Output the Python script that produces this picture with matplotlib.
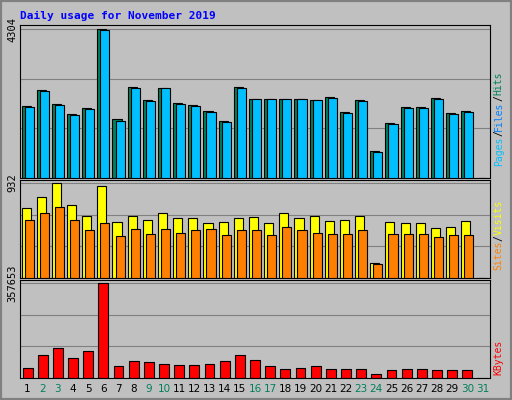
import numpy as np
import matplotlib
matplotlib.use("Agg")
import matplotlib.pyplot as plt

days = list(range(1, 32))
weekend = [2, 3, 9, 10, 16, 17, 23, 24, 30, 31]

hits = [2100, 2560, 2150, 1860, 2030, 4304, 1700, 2650, 2270, 2620, 2180, 2110, 1930, 1640, 2640,
        2300, 2300, 2300, 2300, 2270, 2340, 1900, 2270, 780, 1600, 2060, 2060, 2330, 1890, 1940, 0]
files = [2070, 2530, 2120, 1830, 2000, 4290, 1660, 2620, 2240, 2600, 2150, 2080, 1900, 1610, 2610,
         2280, 2280, 2280, 2280, 2250, 2320, 1870, 2240, 740, 1570, 2040, 2040, 2300, 1860, 1910, 0]
visits = [681, 796, 932, 712, 607, 900, 545, 607, 565, 639, 586, 586, 534, 545, 586,
          597, 534, 639, 586, 607, 555, 565, 607, 147, 545, 534, 534, 492, 503, 555, 0]
sites = [565, 639, 691, 565, 471, 534, 408, 482, 429, 482, 440, 471, 482, 419, 471,
         471, 419, 503, 471, 440, 429, 429, 471, 136, 429, 429, 429, 398, 419, 419, 0]
kbytes = [38900, 85600, 112800, 73900, 101100, 357653, 46700, 62200, 58300, 54400, 50500, 50500,
          54400, 62200, 85600, 66100, 46700, 35000, 38900, 46700, 35000, 35000, 35000, 15600,
          31100, 35000, 35000, 31100, 31100, 31100, 0]

bg = "#c0c0c0"
fig = plt.figure(figsize=(5.12, 4.0), dpi=100, facecolor=bg)
fig.patches.append(plt.Rectangle((0, 0), 1, 1, transform=fig.transFigure,
                                 fill=False, edgecolor="#808080", lw=3))
fig.text(20 / 512, 1 - 16 / 400, "Daily usage for November 2019", color="#0000ff",
         family="DejaVu Sans Mono", weight="bold", fontsize=8, va="center")

x = np.array(days)
left, width = 20 / 512, 470 / 512
panels = [
    (25, 178, hits, files, "#00805c", "#00bfff", 4304,
     [("Pages", "#00bfff"), ("/", "black"), ("Files", "#0080ff"), ("/", "black"), ("Hits", "#00805c")], 0.08),
    (180, 278, visits, sites, "#ffff00", "#ff8000", 932,
     [("Sites", "#ff8000"), ("/", "black"), ("Visits", "#ffff00")], 0.08),
    (280, 378, kbytes, None, "#ff0000", None, 357653, [("KBytes", "#ff0000")], 0.03),
]
for top, bot, back, front, cb, cf, vmax, labels, y0 in panels:
    ax = fig.add_axes([left, 1 - bot / 400, width, (bot - top) / 400], facecolor=bg)
    ax.set_xlim(0.5, 31.5)
    ax.set_ylim(0, vmax * 1.03)
    for g in (vmax / 3, 2 * vmax / 3, vmax):
        ax.axhline(g, color="#808080", lw=0.8, zorder=0)
    if front is None:
        ax.bar(x, back, width=0.65, color=cb, edgecolor="black", lw=0.8, zorder=2)
    else:
        ax.bar(x - 0.1, back, width=0.6, color=cb, edgecolor="black", lw=0.8, zorder=2)
        ax.bar(x + 0.1, front, width=0.6, color=cf, edgecolor="black", lw=0.8, zorder=3)
    ax.set_yticks([vmax])
    ax.set_yticklabels([str(vmax)], rotation=90, va="center", family="DejaVu Sans Mono", fontsize=7.5)
    ax.tick_params(axis="y", length=0, pad=2)
    ax.set_xticks([])
    for s in ax.spines.values():
        s.set_color("black")
        s.set_linewidth(0.8)

    # right-hand legend, chained bottom to top
    prev = None
    for name, col in labels:
        if prev is None:
            prev = ax.text(1.008, y0, name, color=col, rotation=90, transform=ax.transAxes,
                           family="DejaVu Sans Mono", fontsize=7, va="bottom", ha="left")
        else:
            prev = ax.annotate(name, xy=(0, 1), xycoords=prev, color=col, rotation=90,
                               family="DejaVu Sans Mono", fontsize=7, va="bottom", ha="left",
                               annotation_clip=False)

    if front is None:
        ax.set_xticks(x)
        ax.set_xticklabels([str(d) for d in days], fontsize=7.5)
        ax.tick_params(axis="x", length=0, pad=4)
        for lab, d in zip(ax.get_xticklabels(), days):
            lab.set_color("#00805c" if d in weekend else "black")

fig.savefig("out.png", dpi=100, facecolor=bg)
